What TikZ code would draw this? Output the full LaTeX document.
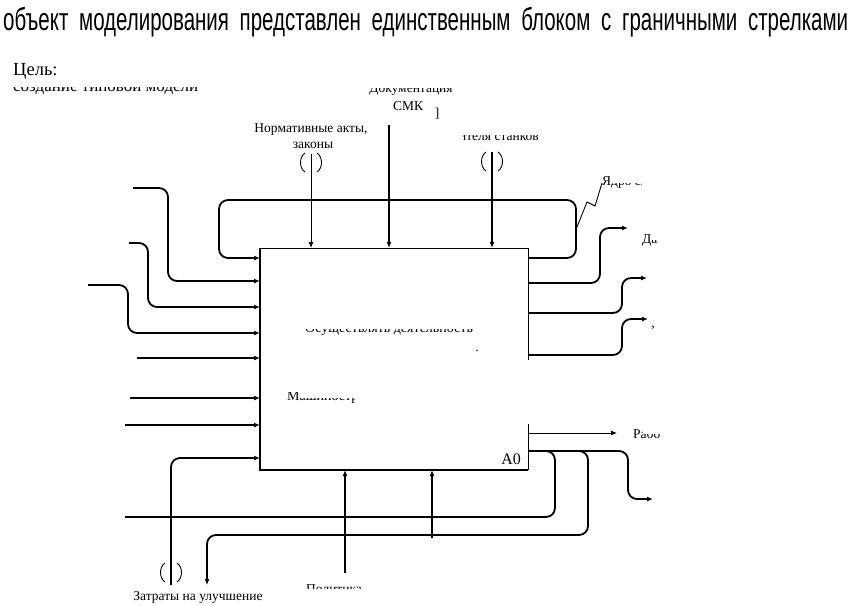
\documentclass[tikz,border=0pt]{standalone}
\usepackage{fontspec}
\setmainfont{Liberation Serif}
\newfontfamily\titlefont{Liberation Sans}
\usetikzlibrary{arrows.meta,calc}
\tikzset{
  thk/.style={line width=1.8pt},
  thn/.style={line width=0.9pt},
  arr/.style={-{Latex[length=6pt,width=5pt]}},
  lbl/.style={font=\fontsize{13.5}{16}\selectfont, inner sep=0pt},
  tun/.style={line width=0.9pt},
  rc/.style={rounded corners=9pt},
}
\newcommand{\tunnelmark}[2]{%
  \draw[tun] (#1-6,#2) .. controls (#1-12,#2+4) and (#1-12,#2+15) .. (#1-6,#2+19);
  \draw[tun] (#1+6,#2) .. controls (#1+12,#2+4) and (#1+12,#2+15) .. (#1+6,#2+19);}
\begin{document}
\begin{tikzpicture}[x=1pt,y=-1pt]
\useasboundingbox (0,0) rectangle (853,605);
\fill[white] (0,0) rectangle (853,605);

% title
\node[anchor=base west, inner sep=0] (title) at (3,30) {\scalebox{1}[1.55]{\makebox[845pt][s]{\titlefont\fontsize{20.5}{20}\selectfont объект моделирования представлен единственным блоком с граничными стрелками}}};

% goal
\node[anchor=base west, font=\fontsize{18.5}{18}\selectfont, inner sep=0] (goal) at (13,75) {Цель:};
\begin{scope}
  \clip (10,87) rectangle (200,96);
  \node[anchor=base west, font=\fontsize{17}{17}\selectfont, inner sep=0] (goaltext) at (13,91) {создание типовой модели};
\end{scope}

% main block
\node[minimum width=268pt, minimum height=222pt, inner sep=0, outer sep=0] (A0) at (394,359) {};
\draw[thk] (A0.north west) -- (A0.south west) -- (A0.south east);
\draw[thn] (A0.north west) -- (A0.north east) -- ++(0,112);
\draw[thn] (A0.south east) -- ++(0,-46);
\node[anchor=base east, font=\fontsize{16}{16}\selectfont, inner sep=0] (a0lbl) at (521,464) {A0};
\begin{scope}
  \clip (300,329) rectangle (490,336);
  \node[anchor=base west, font=\fontsize{14}{14}\selectfont, inner sep=0] (fn) at (305,332) {Осуществлять деятельность};
\end{scope}
\node[lbl] (dot) at (477,351) {.};
\begin{scope}
  \clip (285,392) rectangle (297,402) (297,398) rectangle (354,402);
  \node[anchor=base west, font=\fontsize{14}{14}\selectfont, inner sep=0] (fn2) at (287,400) {Машиностроение};
\end{scope}

% controls
\coordinate (c1) at (311,154);
\draw[thn,arr] (c1) -- (c1 |- A0.north);
\tunnelmark{311}{153}
\node[lbl, anchor=base] (c1t) at (311,132) {Нормативные акты,};
\node[lbl, anchor=base] (c1t2) at (313,148) {законы};

\coordinate (c2) at (389,125);
\draw[thk,arr] (c2) -- (c2 |- A0.north);
\begin{scope}
  \clip (360,88) rectangle (460,96);
  \node[lbl, anchor=base] (c2t) at (411,92) {Документация};
\end{scope}
\node[lbl, anchor=base] (c2t2) at (408,110) {СМК};
\node[lbl, anchor=base] (br) at (437,117) {]};

\coordinate (c3) at (492,152);
\draw[thk,arr] (c3) -- (c3 |- A0.north);
\tunnelmark{492}{152}
\begin{scope}
  \clip (463,135) rectangle (545,145);
  \node[lbl, anchor=base east] (c3t) at (539,140) {Данные изготовителя станков};
\end{scope}

% feedback loop
\draw[thk,arr,rc] (A0.east |- 0,258) -| (576,200) -| (219,258) -- (A0.west |- 0,258);
\draw[thn] (577,227) -- (587,202) -- (595,206) -- (602,183);
\begin{scope}
  \clip (600,176) rectangle (609,190) (609,183) rectangle (641,190);
  \node[lbl, anchor=base west] (fbt) at (602,185) {Ядро системы};
\end{scope}

% outputs
\draw[thk,arr,rc] (A0.east |- 0,283) -| (600,228) -- (628,228);
\begin{scope}
  \clip (640,232) rectangle (650,246) (650,240) rectangle (657,246);
  \node[lbl, anchor=base west] (o1t) at (642,243) {Данные};
\end{scope}
\draw[thk,arr,rc] (A0.east |- 0,313) -| (622,278) -- (647,278);
\draw[thk,arr,rc] (A0.east |- 0,355) -| (622,319) -- (648,319);
\node[lbl] (comma) at (653,328) {,};
\draw[thn,arr] (A0.east |- 0,433) -- (617,433);
\begin{scope}
  \clip (630,425) rectangle (642,442) (642,434) rectangle (660,442);
  \node[lbl, anchor=base west] (o4t) at (633,438) {Работа};
\end{scope}
\draw[thk,arr,rc] (A0.east |- 0,451) -| (628,499) -- (653,499);
\draw[thk,rc] (540,451) -| (555,517) -- (125,517);
\draw[thk,arr,rc] (570,451) -| (588,535) -| (207,585);

% mechanisms
\draw[thk,arr] (345,573) -- (345,0 |- A0.south);
\draw[thk,arr] (432,538) -- (432,0 |- A0.south);
\begin{scope}
  \clip (300,580) rectangle (370,588);
  \node[lbl, anchor=base west] (m1t) at (306,593) {Политика};
\end{scope}

% inputs
\draw[thk,arr,rc] (133,188) -| (168,281) -- (A0.west |- 0,281);
\draw[thk,arr,rc] (129,243) -| (148,307) -- (A0.west |- 0,307);
\draw[thk,arr,rc] (88,285) -| (128,333) -- (A0.west |- 0,333);
\draw[thk,arr] (137,358) -- (A0.west |- 0,358);
\draw[thk,arr] (130,398) -- (A0.west |- 0,398);
\draw[thk,arr] (125,425) -- (A0.west |- 0,425);
\draw[thk,arr,rc] (171,585) |- (A0.west |- 0,458);
\tunnelmark{171}{563}
\node[lbl, anchor=base] (i7t) at (198,600) {Затраты на улучшение};
\end{tikzpicture}
\end{document}
